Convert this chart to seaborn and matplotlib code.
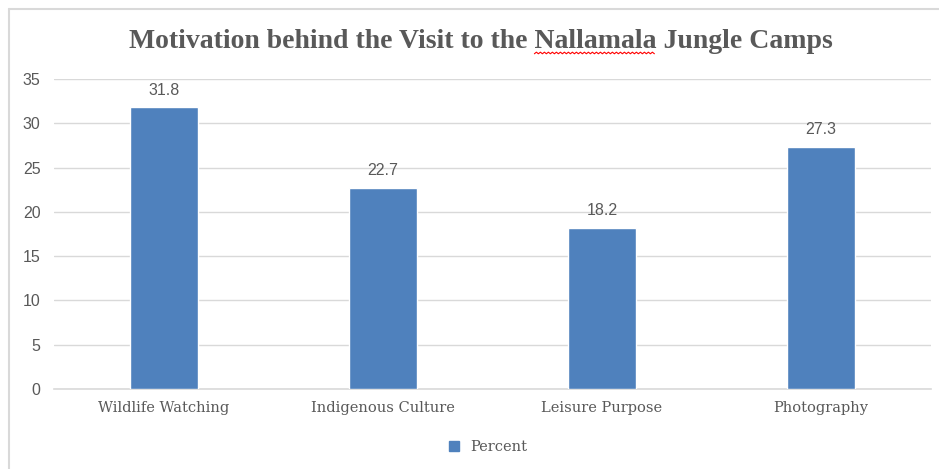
import numpy as np
import pandas as pd
import matplotlib
matplotlib.use("Agg")
import matplotlib.pyplot as plt
import seaborn as sns
from matplotlib.lines import Line2D

kategoriler = ["Wildlife Watching", "Indigenous Culture", "Leisure Purpose", "Photography"]
yuzdeler = [31.8, 22.7, 18.2, 27.3]
y_ticks = [0, 5, 10, 15, 20, 25, 30, 35]

baslik = "Motivation behind the Visit to the Nallamala Jungle Camps"
renk_bar = "#4F81BD"
renk_yazi = "#595959"
renk_grid = "#D9D9D9"

sns.set_style("white")
plt.rcParams['font.family'] = ['Liberation Sans', 'DejaVu Sans']

df = pd.DataFrame({"kategori": kategoriler, "yuzde": yuzdeler})

fig = plt.figure(figsize=(9.39, 4.69), dpi=100)
ax = fig.add_axes([0.058, 0.1706, 0.933, 0.661])

sns.barplot(data=df, x="kategori", y="yuzde", color=renk_bar, width=0.31,
            saturation=1, ax=ax, zorder=3)

ax.set_ylim(0, 35)
ax.set_yticks(y_ticks)
ax.set_xlim(-0.5, len(kategoriler) - 0.5)
ax.yaxis.grid(True, color=renk_grid, linewidth=1, zorder=0)
for s in ["top", "right", "left"]:
    ax.spines[s].set_visible(False)
ax.spines["bottom"].set_color(renk_grid)
ax.spines["bottom"].set_linewidth(1.2)
ax.set_xlabel("")
ax.set_ylabel("")
ax.tick_params(axis="y", length=0, pad=10, labelsize=11.5, labelcolor=renk_yazi)
ax.tick_params(axis="x", length=0, pad=9, labelcolor=renk_yazi)
for lbl in ax.get_xticklabels():
    lbl.set_family("DejaVu Serif")
    lbl.set_fontsize(10.5)

# bar ustu degerler
for i, v in enumerate(yuzdeler):
    ax.annotate(f"{v}", (i, v), xytext=(0, 7), textcoords="offset points",
                ha="center", va="bottom", fontsize=11.5, color=renk_yazi)

# baslik
bfont = dict(fontsize=20, fontweight="bold", family="Liberation Serif")
t = fig.text(0.512, 0.912, baslik, ha="center", va="center", color=renk_yazi, **bfont)

# kirmizi dalgali cizgi (yazim denetimi)
fig.canvas.draw()
r = fig.canvas.get_renderer()
bb = t.get_window_extent(r)
on = fig.text(0, 0, "Motivation behind the Visit to the ", **bfont)
kelime = fig.text(0, 0, "Nallamala", **bfont)
w_on = on.get_window_extent(r).width
w_k = kelime.get_window_extent(r).width
on.remove()
kelime.remove()
x0 = bb.x0 + w_on
xs = np.arange(x0, x0 + w_k, 2.0)
ys = bb.y0 + np.where(np.arange(len(xs)) % 2 == 0, 0, 1.6)
fig.add_artist(Line2D(xs / fig.bbox.width, ys / fig.bbox.height, color="red", linewidth=0.8))

# lejant
isaret = Line2D([], [], marker="s", linestyle="", color=renk_bar, markersize=7)
fig.legend([isaret], ["Percent"], loc="center", bbox_to_anchor=(0.515, 0.047),
           frameon=False, labelcolor=renk_yazi, handletextpad=0.1,
           prop={"family": "DejaVu Serif", "size": 10.5})

# cerceve
fig.add_artist(Line2D([9 / 939, 9 / 939], [0, 1 - 9 / 469], color="#D9D9D9", linewidth=1.5))
fig.add_artist(Line2D([9 / 939, 1], [1 - 9 / 469, 1 - 9 / 469], color="#D9D9D9", linewidth=1.5))

fig.savefig("out.png", dpi=100)
